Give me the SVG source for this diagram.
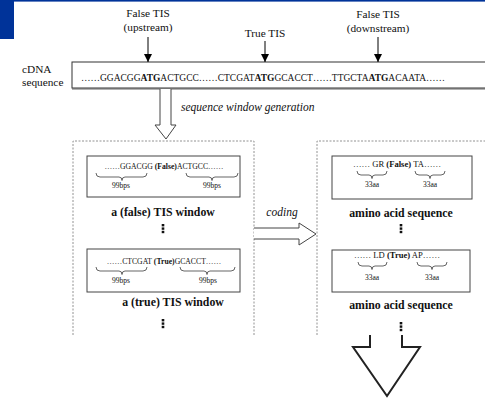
<svg xmlns="http://www.w3.org/2000/svg" width="485" height="398" viewBox="0 0 485 398" font-family="'Liberation Serif', 'Times New Roman', serif">
  <style>
    text { font-family: "Liberation Serif", "Times New Roman", serif; fill: #111; }
    .lbl { font-size: 11.3px; }
    .seq { font-size: 9.5px; }
    .small { font-size: 7.7px; }
    .small2 { font-size: 8.6px; }
    .tiny { font-size: 7.5px; }
    .title { font-size: 11.8px; font-weight: bold; }
    .ital { font-size: 11.5px; font-style: italic; }
    .b { font-weight: bold; }
    .dash { fill: none; stroke: #777; stroke-width: 0.8; stroke-dasharray: 2 1.5; }
    .box { fill: #fff; stroke: #444; stroke-width: 1; }
    .brace { fill: none; stroke: #222; stroke-width: 0.7; }
    .hollow { fill: #fff; stroke: #444; stroke-width: 1; }
    .dot { fill: #111; }
  </style>
  <defs>
    <marker id="tip" viewBox="0 0 8 8" refX="8" refY="4" markerWidth="8" markerHeight="8" markerUnits="userSpaceOnUse" orient="auto">
      <path d="M0,0 L8,4 L0,8 z" fill="#000"/>
    </marker>
    <g id="vdots">
      <rect x="-1.3" y="0" width="2.6" height="2.4" class="dot"/>
      <rect x="-1.3" y="3.4" width="2.6" height="2.4" class="dot"/>
      <rect x="-1.3" y="6.8" width="2.6" height="2.4" class="dot"/>
    </g>
  </defs>

  <!-- page furniture -->
  <rect x="0" y="0" width="485" height="398" fill="#fff"/>
  <rect x="0" y="0" width="485" height="1.6" fill="#003399"/>
  <rect x="0" y="0" width="14" height="39" fill="#003399"/>

  <!-- TIS labels -->
  <g id="tis-up">
    <text class="lbl" x="148" y="17" text-anchor="middle">False TIS</text>
    <text class="lbl" x="148" y="31" text-anchor="middle">(upstream)</text>
  </g>
  <g id="tis-true">
    <text class="lbl" x="265" y="37" text-anchor="middle">True TIS</text>
  </g>
  <g id="tis-down">
    <text class="lbl" x="378" y="18" text-anchor="middle">False TIS</text>
    <text class="lbl" x="378" y="32" text-anchor="middle">(downstream)</text>
  </g>

  <!-- cDNA sequence -->
  <g id="cdna">
    <text class="lbl" x="22" y="73">cDNA</text>
    <text class="lbl" x="22" y="86">sequence</text>
    <line x1="72" y1="89" x2="485" y2="89" stroke="#999" stroke-width="1.5"/>
    <rect x="72" y="62" width="420" height="26" fill="#fff" stroke="#333" stroke-width="1"/>
    <text class="seq" x="81" y="81" textLength="364" lengthAdjust="spacingAndGlyphs">……GGACGG<tspan class="b">ATG</tspan>ACTGCC……CTCGAT<tspan class="b">ATG</tspan>GCACCT……TTGCTA<tspan class="b">ATG</tspan>ACAATA……</text>
  </g>

  <!-- window panel -->
  <g id="window-panel">
    <path class="dash" d="M73,335 V141 H254 V335"/>
  </g>
  <g id="window-false">
    <rect class="box" x="87" y="156" width="153" height="41"/>
    <text class="small" x="164" y="169" text-anchor="middle">……GGACGG <tspan class="b">(False)</tspan>ACTGCC……</text>
    <path class="brace" d="M96,173 q0,4 4,4 H119 q3,0 3,3.5 q0,-3.5 3,-3.5 H143 q4,0 4,-4"/>
    <path class="brace" d="M186,173 q0,4 4,4 H209 q3,0 3,3.5 q0,-3.5 3,-3.5 H234 q4,0 4,-4"/>
    <text class="tiny" x="121" y="188" text-anchor="middle">99bps</text>
    <text class="tiny" x="212" y="188" text-anchor="middle">99bps</text>
    <text class="title" x="163" y="216" text-anchor="middle">a (false) TIS window</text>
    <use href="#vdots" x="163" y="224"/>
  </g>
  <g id="window-true">
    <rect class="box" x="87" y="249" width="153" height="43"/>
    <text class="small" x="164" y="264" text-anchor="middle">……CTCGAT <tspan class="b">(True)</tspan>GCACCT……</text>
    <path class="brace" d="M96,267 q0,4 4,4 H119 q3,0 3,3.5 q0,-3.5 3,-3.5 H143 q4,0 4,-4"/>
    <path class="brace" d="M180,267 q0,4 4,4 H204 q3,0 3,3.5 q0,-3.5 3,-3.5 H231 q4,0 4,-4"/>
    <text class="tiny" x="121" y="283" text-anchor="middle">99bps</text>
    <text class="tiny" x="208" y="283" text-anchor="middle">99bps</text>
    <text class="title" x="173" y="306" text-anchor="middle">a (true) TIS window</text>
    <use href="#vdots" x="163" y="319"/>
  </g>

  <!-- amino acid panel -->
  <g id="amino-panel">
    <path class="dash" d="M317,335 V141 H490"/>
  </g>
  <g id="amino-false">
    <rect class="box" x="332" y="156" width="140" height="43"/>
    <text class="small2" x="397" y="167" text-anchor="middle">…… GR <tspan class="b">(False)</tspan> TA……</text>
    <path class="brace" d="M357,171 q0,4 4,4 H369 q3,0 3,3.5 q0,-3.5 3,-3.5 H383 q4,0 4,-4"/>
    <path class="brace" d="M415,171 q0,4 4,4 H427 q3,0 3,3.5 q0,-3.5 3,-3.5 H441 q4,0 4,-4"/>
    <text class="tiny" x="372" y="187" text-anchor="middle">33aa</text>
    <text class="tiny" x="430" y="187" text-anchor="middle">33aa</text>
    <text class="title" x="401" y="217" text-anchor="middle">amino acid sequence</text>
    <use href="#vdots" x="401" y="224"/>
  </g>
  <g id="amino-true">
    <rect class="box" x="332" y="250" width="138" height="42"/>
    <text class="small2" x="397" y="258" text-anchor="middle">…… LD <tspan class="b">(True)</tspan> AP……</text>
    <path class="brace" d="M358,262 q0,4 4,4 H369 q3,0 3,3.5 q0,-3.5 3,-3.5 H383 q4,0 4,-4"/>
    <path class="brace" d="M417,262 q0,4 4,4 H429 q3,0 3,3.5 q0,-3.5 3,-3.5 H443 q4,0 4,-4"/>
    <text class="tiny" x="372" y="280" text-anchor="middle">33aa</text>
    <text class="tiny" x="432" y="280" text-anchor="middle">33aa</text>
    <text class="title" x="401" y="309" text-anchor="middle">amino acid sequence</text>
    <use href="#vdots" x="401" y="322"/>
  </g>

  <!-- connectors -->
  <g id="connectors">
    <line x1="148" y1="37" x2="148" y2="62" stroke="#000" stroke-width="1" marker-end="url(#tip)"/>
    <line x1="265" y1="41" x2="265" y2="62" stroke="#000" stroke-width="1" marker-end="url(#tip)"/>
    <line x1="378" y1="37" x2="378" y2="62" stroke="#000" stroke-width="1" marker-end="url(#tip)"/>
    <!-- window generation -->
    <path class="hollow" d="M160,89 V125 H155 L166,139 L176,125 H171 V89"/>
    <text class="ital" x="181" y="111">sequence window generation</text>
    <!-- coding -->
    <path class="hollow" d="M254,228 H299 V223 L316,234 L299,245 V239 H254"/>
    <text class="ital" x="282" y="216" text-anchor="middle">coding</text>
    <!-- onward -->
    <path d="M370,335 V347 H353 L387,396 L420,347 H402 V335" fill="#fff" stroke="#222" stroke-width="2" stroke-linejoin="miter"/>
  </g>
</svg>
